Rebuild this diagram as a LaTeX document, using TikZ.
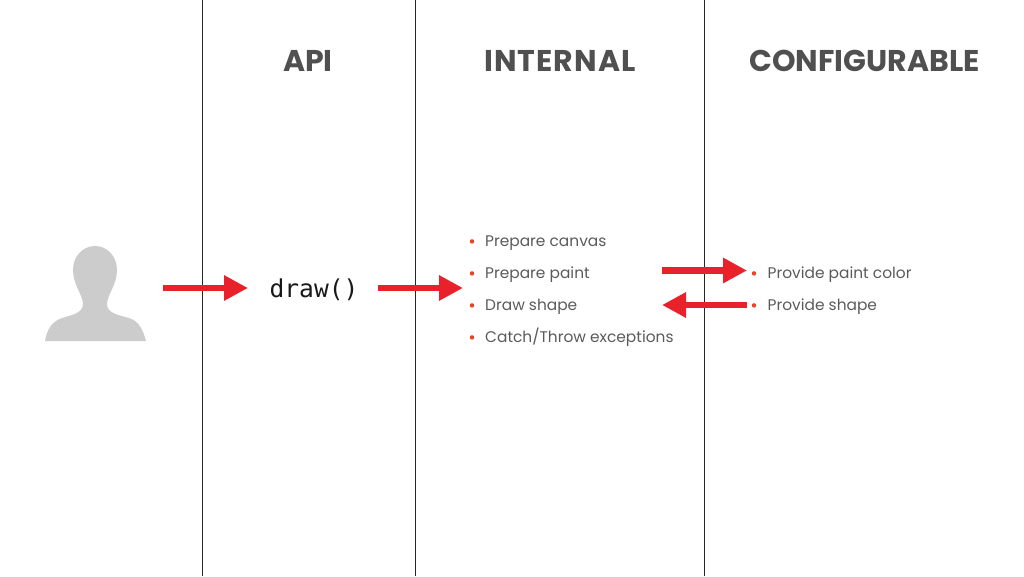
\documentclass[tikz,border=0pt]{standalone}
\usepackage{fontspec}
\setmainfont{Poppins}
\newfontfamily\codefont{DejaVu Sans Mono}
\usetikzlibrary{arrows.meta}
\definecolor{headgrey}{HTML}{505050}
\definecolor{bodygrey}{HTML}{5A5A5A}
\definecolor{redarrow}{HTML}{E8212B}
\definecolor{bulletred}{HTML}{E8452C}
\definecolor{persongrey}{HTML}{CCCCCC}
\tikzset{
  divider/.style={draw=black!85,line width=1pt},
  heading/.style={text=headgrey,font=\fontsize{30}{34}\selectfont\bfseries,inner sep=0pt},
  item/.style={text=bodygrey,font=\fontsize{15.4}{20}\selectfont,anchor=base west,inner sep=0pt},
  dot/.style={circle,fill=bulletred,minimum size=4.5pt,inner sep=0pt},
  bigarrow/.style={draw=redarrow,line width=6.5pt,-{Triangle[length=24pt,width=24pt,fill=redarrow]}},
}
\begin{document}
\begin{tikzpicture}[x=1pt,y=-1pt]
\useasboundingbox (0,0) rectangle (1024,576);
\draw[divider] (202.5,0) -- (202.5,576);
\draw[divider] (415.5,0) -- (415.5,576);
\draw[divider] (704.5,0) -- (704.5,576);
\node[heading] (api) at (308,61) {API};
\node[heading] (internal) at (560,61) {\addfontfeature{LetterSpace=3.3}INTERNAL};
\node[heading] (configurable) at (864.5,61) {CONFIGURABLE};
\fill[persongrey] (45,341)
  .. controls (47,330) and (51,322) .. (62,318)
  .. controls (72,315) and (83,313) .. (83,304)
  .. controls (83,295) and (73,285) .. (73,270)
  .. controls (73,256) and (83,246) .. (95,246)
  .. controls (107,246) and (117,256) .. (117,270)
  .. controls (117,285) and (107,295) .. (107,304)
  .. controls (107,313) and (118,315) .. (129,318)
  .. controls (139,321) and (143,330) .. (146,341) -- cycle;
\node[inner sep=0pt,anchor=base,font=\fontsize{24.6}{28}\codefont,text=black!90] (drawcall) at (314,297) {draw()};
\foreach \n/\y/\t in {a/246.4/{Prepare canvas},b/278.4/{Prepare paint},c/310.4/{Draw shape},d/342.4/{Catch/Throw exceptions}}{
  \node[item] (\n) at (485,\y) {\t};
  \node[dot] at (472,\y-5) {};
}
\foreach \n/\y/\t in {e/278.4/{Provide paint color},f/310.4/{Provide shape}}{
  \node[item] (\n) at (767.5,\y) {\t};
  \node[dot] at (754,\y-5) {};
}
\coordinate (p1) at (163,288); \coordinate (p2) at (248,288);
\coordinate (p3) at (378,288); \coordinate (p4) at (463,288);
\coordinate (p5) at (662,270.5); \coordinate (p6) at (747,270.5);
\coordinate (p7) at (747,305); \coordinate (p8) at (662,305);
\draw[bigarrow] (p1) -- (p2);
\draw[bigarrow] (p3) -- (p4);
\draw[bigarrow] (p5) -- (p6);
\draw[bigarrow] (p7) -- (p8);
\end{tikzpicture}
\end{document}
